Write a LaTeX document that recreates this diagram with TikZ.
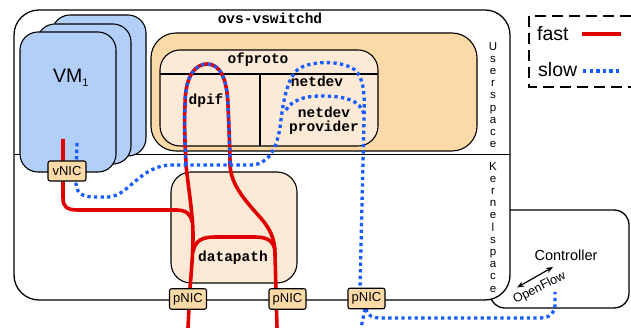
\documentclass[tikz,border=0pt]{standalone}
\usepackage{fontspec}
\setmainfont{Liberation Sans}
\setmonofont{Liberation Mono}
\usetikzlibrary{arrows.meta}

\definecolor{vmblue}{RGB}{178,207,250}
\definecolor{nicorange}{RGB}{252,218,168}
\definecolor{lightpeach}{RGB}{253,234,214}
\definecolor{fastred}{RGB}{224,0,0}
\definecolor{slowblue}{RGB}{22,92,255}

\tikzset{
  box/.style={draw=black, line width=1.1pt, inner sep=0pt, outer sep=0pt},
  vmbox/.style={box, fill=vmblue, rounded corners=18pt},
  nicbox/.style={box, fill=nicorange, rounded corners=2pt, minimum width=37pt,
    minimum height=20.5pt, font=\fontsize{13}{14}\selectfont},
  fastpath/.style={draw=fastred, line width=3.6pt, line join=round},
  slowpath/.style={draw=slowblue, line width=3.3pt, dash pattern=on 3.3pt off 3.3pt},
  monolabel/.style={font=\ttfamily\bfseries\fontsize{14.5}{15}\selectfont, inner sep=0pt, anchor=base},
  stacked/.style={font=\fontsize{11.5}{12.2}\selectfont, align=center, inner sep=0pt, anchor=north},
}

\begin{document}
\begin{tikzpicture}[x=1pt,y=-1pt]
\useasboundingbox (0,0) rectangle (631,328);

% controller box, partly hidden behind the host
\node[box, line width=1.3pt, fill=white, rounded corners=15pt,
  minimum width=139pt, minimum height=98pt] (ctrl) at (559.5,259) {};

% host box with the user/kernel divider
\node[box, line width=1.3pt, fill=white, rounded corners=25pt,
  minimum width=496pt, minimum height=290pt] (host) at (262,155) {};
\coordinate (divL) at (14,154.5);
\coordinate (divR) at (510,154.5);
\draw[line width=1.3pt] (divL) -- (divR);

% stacked virtual machines
\node[vmbox, minimum width=94pt, minimum height=141pt] (vm3) at (99,85.5) {};
\node[vmbox, minimum width=94pt, minimum height=140pt] (vm2) at (84,94) {};
\node[vmbox, minimum width=96pt, minimum height=140pt] (vm1) at (68,102) {};
\node[inner sep=0pt, anchor=base] (vmlabel) at (70.7,83)
  {\fontsize{19.5}{20}\selectfont VM\raisebox{-4pt}{\fontsize{11}{11}\selectfont 1}};

% ofproto block
\node[box, fill=nicorange, rounded corners=25pt, minimum width=326pt,
  minimum height=118pt] (ofouter) at (314,92) {};
\node[box, fill=lightpeach, rounded corners=20pt, minimum width=218pt,
  minimum height=96pt] (ofproto) at (269,98) {};
\coordinate (ofL) at (160,74);
\coordinate (ofR) at (378,74);
\coordinate (ofT) at (260,74);
\coordinate (ofB) at (260,146);
\draw[line width=1.1pt] (ofL) -- (ofR);
\draw[line width=1.1pt] (ofT) -- (ofB);

% datapath block
\node[box, fill=lightpeach, rounded corners=20pt, minimum width=126pt,
  minimum height=111pt] (dp) at (234,227.5) {};

% labels in the components
\node[monolabel] (ovslabel) at (270,23.5) {ovs-vswitchd};
\node[monolabel] (oflabel) at (258,63.5) {ofproto};
\node[monolabel] (dpiflabel) at (206,105) {dpif};
\node[monolabel] (netdevlabel) at (317,87) {netdev};
\node[monolabel] (provlabelA) at (324,118) {netdev};
\node[monolabel] (provlabelB) at (324,132) {provider};
\node[monolabel] (dplabel) at (233,262) {datapath};

% fast path (red)
\draw[fastpath] (63,139) -- (63,198) .. controls (63,207) and (67,210) .. (78,210)
  -- (176,210) .. controls (186,210) and (191,214) .. (192,222);
\draw[fastpath] (188,328) -- (190,288) .. controls (192,265) and (193,250) .. (193,235)
  .. controls (193,215) and (188,185) .. (186,165)
  .. controls (185,140) and (184,125) .. (185,105)
  .. controls (185,75) and (196,64) .. (207,64)
  .. controls (220,64) and (227,78) .. (228,105)
  .. controls (229,130) and (230,150) .. (230,165)
  .. controls (231,185) and (245,200) .. (258,215)
  .. controls (270,228) and (275,238) .. (275,255) -- (277,328);
\draw[fastpath] (193,252) .. controls (195,240) and (203,237) .. (215,237)
  -- (255,237) .. controls (266,237) and (273,240) .. (275,250);

% slow path (blue)
\draw[slowpath] (77,143) -- (76,178) .. controls (75,192) and (80,197) .. (95,197)
  -- (108,197) .. controls (128,197) and (140,165) .. (172,165) -- (250,165)
  .. controls (268,165) and (276,150) .. (280,128)
  .. controls (283,100) and (288,75) .. (300,68)
  .. controls (312,61) and (342,60) .. (355,70)
  .. controls (364,78) and (365,95) .. (364,120) -- (360,288);
\draw[slowpath] (186,165)
  .. controls (185,140) and (184,125) .. (185,105)
  .. controls (185,75) and (196,64) .. (207,64)
  .. controls (220,64) and (227,78) .. (228,105)
  .. controls (229,130) and (230,150) .. (230,165);
\draw[slowpath] (286,110) .. controls (292,100) and (305,96) .. (320,96)
  .. controls (345,96) and (360,100) .. (364,114);
\draw[slowpath] (366,309) .. controls (368,316) and (372,318) .. (382,318) -- (540,318)
  .. controls (550,318) and (555,313) .. (555,305) -- (555,292);
\draw[slowpath] (365,309) -- (361,328);

% network interfaces
\node[nicbox, minimum width=38pt, minimum height=20pt] (vnic) at (67,171) {vNIC};
\node[nicbox] (pnicA) at (188,299) {pNIC};
\node[nicbox] (pnicB) at (287.5,299) {pNIC};
\node[nicbox] (pnicC) at (366.5,298.5) {pNIC};

% space labels
\node[stacked] (userlbl) at (493,42) {U\\s\\e\\r\\s\\p\\a\\c\\e};
\node[stacked] (kernlbl) at (493,162) {K\\e\\r\\n\\e\\l\\s\\p\\a\\c\\e};

% controller and OpenFlow link
\node[font=\fontsize{14.5}{15}\selectfont, inner sep=0pt, anchor=base] (ctrllabel) at (566,260.5) {Controller};
\coordinate (ofa) at (517,287.5);
\coordinate (ofb) at (553,267);
\draw[{Stealth[length=7pt,width=5.5pt]}-{Stealth[length=7pt,width=5.5pt]}, line width=1.2pt] (ofa) -- (ofb);
\node[font=\fontsize{12.5}{13}\selectfont, rotate=27, inner sep=0pt] (oflow) at (539.5,288) {OpenFlow};

% legend
\coordinate (lgA) at (631,16);
\coordinate (lgB) at (529,16);
\coordinate (lgC) at (529,87);
\coordinate (lgD) at (631,87);
\draw[line width=1.3pt, dash pattern=on 11pt off 6pt] (lgA) -- (lgB) -- (lgC) -- (lgD);
\node[font=\fontsize{19.5}{20}\selectfont, inner sep=0pt, anchor=base west] (fastlbl) at (537,40.5) {fast};
\node[font=\fontsize{19.5}{20}\selectfont, inner sep=0pt, anchor=base west] (slowlbl) at (538,76.5) {slow};
\coordinate (fastA) at (582,34.3);
\coordinate (fastB) at (621,34.3);
\coordinate (slowA) at (583,71);
\coordinate (slowB) at (622,71);
\draw[fastpath, line width=4pt] (fastA) -- (fastB);
\draw[slowpath] (slowA) -- (slowB);
\end{tikzpicture}
\end{document}
